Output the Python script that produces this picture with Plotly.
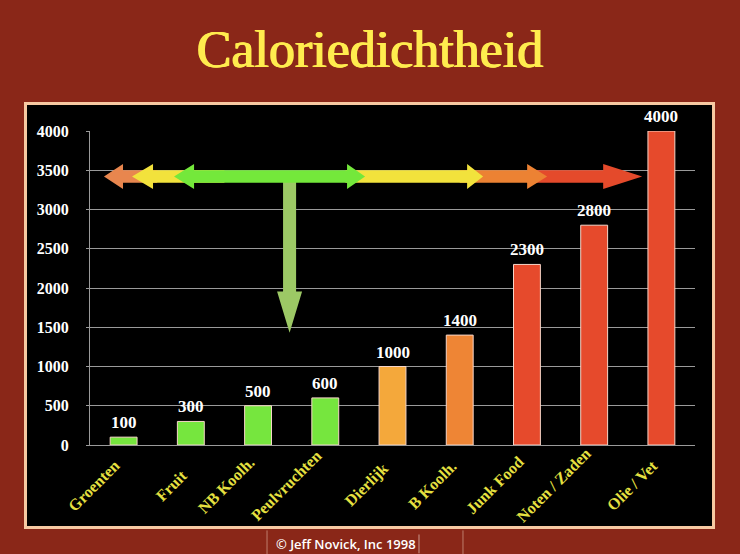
import plotly.graph_objects as go

# ---- data ----
categories = ["Groenten", "Fruit", "NB Koolh.", "Peulvruchten", "Dierlijk",
              "B Koolh.", "Junk Food", "Noten / Zaden", "Olie / Vet"]
calories = [100, 300, 500, 600, 1000, 1400, 2300, 2800, 4000]
bar_colors = ["#76E63E", "#76E63E", "#76E63E", "#76E63E", "#F4A83B",
              "#EE8535", "#E64A2C", "#E64A2C", "#E64A2C"]
y_ticks = [0, 500, 1000, 1500, 2000, 2500, 3000, 3500, 4000]

BG = "#8A2718"
SERIF = "Liberation Serif"

xs = list(range(len(categories)))

fig = go.Figure()
fig.add_trace(go.Bar(
    x=xs, y=calories, width=0.4,
    marker=dict(color=bar_colors, line=dict(color="#F6D5C8", width=1)),
    hoverinfo="skip", showlegend=False,
))

# value labels above bars
for xv, v in zip(xs, calories):
    fig.add_annotation(x=xv, y=v, text=f"<b>{v}</b>", showarrow=False,
                       yanchor="bottom", yshift=3,
                       font=dict(family=SERIF, size=17, color="white"))

# category labels, rotated around their centre like the original
for xv, name in zip(xs, categories):
    fig.add_annotation(x=xv, xref="x", y=-0.1274, yref="paper",
                       text=f"<b>{name}</b>", showarrow=False, textangle=-45,
                       xanchor="right", yanchor="middle", xshift=2,
                       font=dict(family=SERIF, size=16, color="#E6E040"))

# ---- arrows (in data units: x = category index, y = calories) ----
YC = 3420          # centre line of the horizontal arrow
BH = 80            # body half thickness
HH = 160           # head half height


def h_arrow(tail, base, tip, color, head2=None):
    """Horizontal arrow; head2 = (base2, tip2) for a second head at tail side."""
    if head2 is None:
        pts = [(tail, YC - BH), (base, YC - BH), (base, YC - HH), (tip, YC),
               (base, YC + HH), (base, YC + BH), (tail, YC + BH)]
    else:
        b2, t2 = head2
        pts = [(b2, YC - BH), (base, YC - BH), (base, YC - HH), (tip, YC),
               (base, YC + HH), (base, YC + BH), (b2, YC + BH), (b2, YC + HH),
               (t2, YC), (b2, YC - HH)]
    path = "M " + " L ".join(f"{x},{y}" for x, y in pts) + " Z"
    fig.add_shape(type="path", path=path, xref="x", yref="y",
                  fillcolor=color, line=dict(width=0), layer="above")


# right side (drawn back to front)
h_arrow(6.0, 7.134, 7.714, "#E44A2B")
h_arrow(5.0, 6.003, 6.30, "#EC8233")
h_arrow(3.3, 5.11, 5.348, "#F2E23C")
# left side
h_arrow(0.5, -0.009, -0.292, "#E8864E")
h_arrow(1.5, 0.4375, 0.125, "#F2E23C")

# vertical arrow
VX, VB, VH = 2.469, 0.097, 0.186
vpts = [(VX - VB, YC), (VX + VB, YC), (VX + VB, 1955), (VX + VH, 1955),
        (VX, 1431), (VX - VH, 1955), (VX - VB, 1955)]
fig.add_shape(type="path",
              path="M " + " L ".join(f"{x},{y}" for x, y in vpts) + " Z",
              xref="x", yref="y", fillcolor="#9CC865", line=dict(width=0),
              layer="above")

# green double arrow on top
h_arrow(1.048, 3.324, 3.592, "#74E83B", head2=(1.048, 0.75))

# ---- panel and decorations ----
fig.add_shape(type="rect", xref="paper", yref="paper",
              x0=-0.1066, x1=1.0306, y0=-0.2627, y1=1.0876,
              fillcolor="black", line=dict(color="#F7C9A2", width=3),
              layer="below")
for xp in (0.2926, 0.6165):
    fig.add_shape(type="line", xref="paper", yref="paper",
                  x0=xp, x1=xp, y0=-0.272, y1=-0.35,
                  line=dict(color="rgba(225,185,165,0.6)", width=1))
fig.add_shape(type="line", xref="paper", yref="paper",
              x0=0.5438, x1=0.5438, y0=-0.285, y1=-0.345,
              line=dict(color="rgba(230,200,190,0.7)", width=1))

fig.add_annotation(xref="paper", yref="paper", x=0.4235, y=-0.315,
                   xanchor="center", yanchor="middle",
                   text="© Jeff Novick, Inc 1998", showarrow=False,
                   font=dict(family="Open Sans", size=13, color="white",
                             weight=600))

fig.update_layout(
    width=740, height=554,
    margin=dict(l=90, r=45, t=131, b=109),
    paper_bgcolor=BG, plot_bgcolor="black",
    title=dict(text="Caloriedichtheid", x=0.5, xref="container",
               y=1 - 49 / 554, yref="container", yanchor="middle",
               xanchor="center",
               font=dict(family=SERIF, size=52, color="#FFEC4E",
                         shadow="0.7px 0 0 #FFEC4E, -0.7px 0 0 #FFEC4E")),
    xaxis=dict(range=[-0.5, 8.5], tickmode="array", tickvals=xs,
               showticklabels=False, showgrid=False,
               zeroline=False, showline=True, linecolor="#9A9A9A",
               ticks=""),
    yaxis=dict(range=[0, 4000], tickmode="array", tickvals=y_ticks,
               showgrid=True, gridcolor="#9A9A9A", gridwidth=1,
               zeroline=False, showline=True, linecolor="#9A9A9A",
               ticks="outside", ticklen=3, tickcolor="#9A9A9A",
               ticklabelstandoff=14,
               tickfont=dict(family=SERIF, size=16, color="white",
                             weight="bold")),
)

fig.write_html("out.html")
